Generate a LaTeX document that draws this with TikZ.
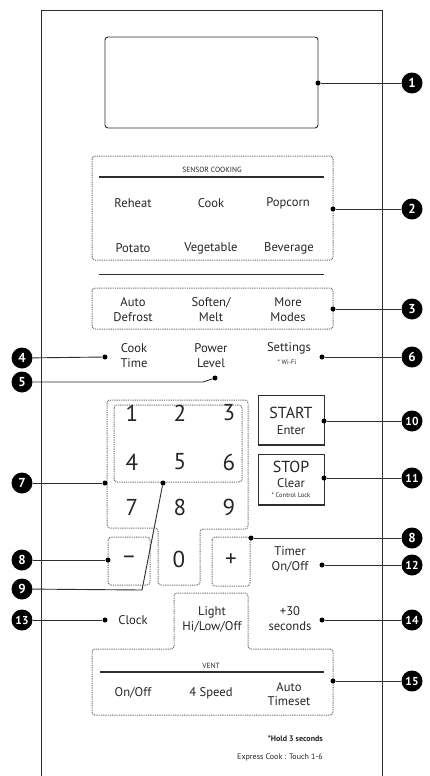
\documentclass[tikz,border=0pt]{standalone}
\usepackage{fontspec}
\setmainfont{PT Sans}
\begin{document}
\begin{tikzpicture}[x=1pt,y=-1pt,
  lbl/.style={text=txt,align=center,inner sep=0pt,font=\fontsize{12.6}{14.8}\selectfont},
  digit/.style={text=txt,inner sep=0pt,font=\fontsize{23}{24}\selectfont},
  small/.style={text=txt,inner sep=0pt,font=\fontsize{7.5}{8}\selectfont},
  num/.style={circle,fill=black,text=white,inner sep=0pt,minimum size=21pt,font=\fontsize{13}{13}\selectfont\bfseries},
  num2/.style={num,font=\fontsize{11.5}{11.5}\selectfont\bfseries},
  dotn/.style={circle,fill=black,inner sep=0pt,minimum size=5pt},
  dbox/.style={draw=dgray,line width=1pt,dash pattern=on 0.9pt off 0.9pt,rounded corners=3pt},
  lead/.style={draw=lcol,line width=0.9pt},
  sep/.style={draw=lcol,line width=1.1pt}]
\definecolor{txt}{HTML}{262626}
\definecolor{dgray}{HTML}{6A6A6A}
\definecolor{lcol}{HTML}{2E2E2E}
\useasboundingbox (0,0) rectangle (429,776);
\fill[white] (0,0) rectangle (429,776);
% outer panel
\draw[lcol,line width=0.9pt] (41,776) -- (41,10) -- (382,10) -- (382,776);
% display
\node[draw=lcol,line width=0.9pt,rounded corners=3pt,minimum width=213pt,minimum height=91pt,inner sep=0pt] (disp) at (211.5,82.5) {};
\node[dotn] (d1) at (318,83) {};
\node[num] (n1) at (412,83) {1};
\draw[lead] (d1) -- (n1);
% sensor cooking
\draw[dbox] (92,156) rectangle (333,260);
\node[small] (sc) at (212,170) {SENSOR COOKING};
\draw[sep] (99,177) -- (324,177);
\node[lbl] (reheat) at (133,203) {Reheat};
\node[lbl] (cook) at (211,203) {Cook};
\node[lbl] (popcorn) at (288,203) {Popcorn};
\node[lbl] (potato) at (133,248) {Potato};
\node[lbl] (veg) at (211,248) {Vegetable};
\node[lbl] (bev) at (289,248) {Beverage};
\node[dotn] (d2) at (333,209) {};
\node[num] (n2) at (412,209) {2};
\draw[lead] (d2) -- (n2);
\draw[sep] (99,274.5) -- (324,274.5);
% auto defrost row
\draw[dbox] (92,288) rectangle (333,329);
\node[lbl] (adef) at (133,309.5) {Auto\\Defrost};
\node[lbl] (soft) at (211,309.5) {Soften/\\Melt};
\node[lbl] (more) at (288,309.5) {More\\Modes};
\node[dotn] (d3) at (333,309) {};
\node[num] (n3) at (412,309) {3};
\draw[lead] (d3) -- (n3);
% cook time row
\node[lbl] (ctime) at (134,355.5) {Cook\\Time};
\node[lbl] (plevel) at (211,355.5) {Power\\Level};
\node[lbl] (settings) at (289,348) {Settings};
\node[small,font=\fontsize{6.5}{7}\selectfont] (wifi) at (287,362) {* Wi-Fi};
\node[dotn] (d4) at (105,357) {};
\node[num] (n4) at (22,358) {4};
\draw[lead] (n4) -- (d4);
\node[dotn] (d5) at (215,378) {};
\node[num] (n5) at (22,382) {5};
\coordinate (b5) at (203,382);
\draw[lead] (n5) -- (b5) -- (d5);
\node[dotn] (d6) at (322,357) {};
\node[num] (n6) at (412,357) {6};
\draw[lead] (d6) -- (n6);
% keypad
\draw[dbox] (107,400) -- (248,400) -- (248,529) -- (200,529) -- (200,585) -- (158,585) -- (158,528) -- (107,528) -- cycle;
\draw[dbox] (114,405) rectangle (242,482);
\node[digit] (k1) at (132,413) {1};
\node[digit] (k2) at (180,413) {2};
\node[digit] (k3) at (229,413) {3};
\node[digit] (k4) at (132,462) {4};
\node[digit] (k5) at (180,462) {5};
\node[digit] (k6) at (229,462) {6};
\node[digit] (k7) at (132,507) {7};
\node[digit] (k8) at (180,507) {8};
\node[digit] (k9) at (229,507) {9};
\node[digit] (k0) at (179,559) {0};
\draw[dbox] (108,537) rectangle (150,585);
\draw[dbox] (212,537) rectangle (250,586);
\node[digit] (kminus) at (129,560) {–};
\node[digit] (kplus) at (231,560) {+};
\node[dotn] (d7) at (105,483) {};
\node[num] (n7) at (22,483) {7};
\draw[lead] (n7) -- (d7);
\node[dotn] (d9) at (163,483) {};
\node[num] (n9) at (22,589) {9};
\coordinate (b9) at (142,590);
\draw[lead] (d9) -- (b9) -- (n9);
\node[dotn] (d8a) at (108,560) {};
\node[num] (n8a) at (22,560) {8};
\draw[lead] (n8a) -- (d8a);
\node[dotn] (d8b) at (251,538) {};
\node[num] (n8b) at (412,538) {8};
\draw[lead] (d8b) -- (n8b);
% start / stop
\draw[lcol,line width=0.9pt] (258,445) -- (258,395) -- (324,395) -- (324,445);
\draw[lcol,line width=2.2pt] (257.5,445) -- (324.5,445);
\node[text=txt,inner sep=0pt,font=\fontsize{16}{16}\selectfont] (start) at (291,413) {START};
\node[lbl] (enter) at (291,430) {Enter};
\node[dotn] (d10) at (324,421) {};
\node[num2] (n10) at (412,421) {10};
\draw[lead] (d10) -- (n10);
\draw[lcol,line width=0.9pt] (258,505) -- (258,454) -- (324,454) -- (324,505);
\draw[lcol,line width=2.2pt] (257.5,505) -- (324.5,505);
\node[text=txt,inner sep=0pt,font=\fontsize{16}{16}\selectfont] (stop) at (291,467) {STOP};
\node[lbl] (clear) at (291,483) {Clear};
\node[small,font=\fontsize{6.5}{7}\selectfont] (clock) at (291,495) {* Control Lock};
\node[dotn] (d11) at (324,478) {};
\node[num2] (n11) at (412,478) {11};
\draw[lead] (d11) -- (n11);
% timer
\node[lbl] (timer) at (290,559.5) {Timer\\On/Off};
\node[dotn] (d12) at (322,565) {};
\node[num2] (n12) at (412,565) {12};
\draw[lead] (d12) -- (n12);
% clock row
\node[lbl] (clk) at (133,620) {Clock};
\node[dotn] (d13) at (105,620) {};
\node[num2] (n13) at (22,620) {13};
\draw[lead] (n13) -- (d13);
\node[lbl] (light) at (212,619.5) {Light\\Hi/Low/Off};
\node[lbl] (p30) at (290,618.5) {+30\\seconds};
\node[dotn] (d14) at (322,620) {};
\node[num2] (n14) at (412,620) {14};
\draw[lead] (d14) -- (n14);
% light + vent
\draw[dbox] (174,649) -- (174,593) -- (248,593) -- (248,649) -- (333,649) -- (333,715) -- (92,715) -- (92,649) -- cycle;
\node[small] (vent) at (211,666) {VENT};
\draw[sep] (100,672) -- (324,672);
\node[lbl] (onoff) at (133,693) {On/Off};
\node[lbl] (speed) at (211,693) {4 Speed};
\node[lbl] (auto) at (289,694) {Auto\\Timeset};
\node[dotn] (d15) at (333,681) {};
\node[num2] (n15) at (412,681) {15};
\draw[lead] (d15) -- (n15);
% notes
\node[small,font=\fontsize{8}{8}\selectfont\bfseries,anchor=east] (hold) at (323,739) {*Hold 3 seconds};
\node[small,font=\fontsize{8}{8}\selectfont,anchor=east] (expr) at (323,757) {Express Cook : Touch 1-6};
\end{tikzpicture}
\end{document}
